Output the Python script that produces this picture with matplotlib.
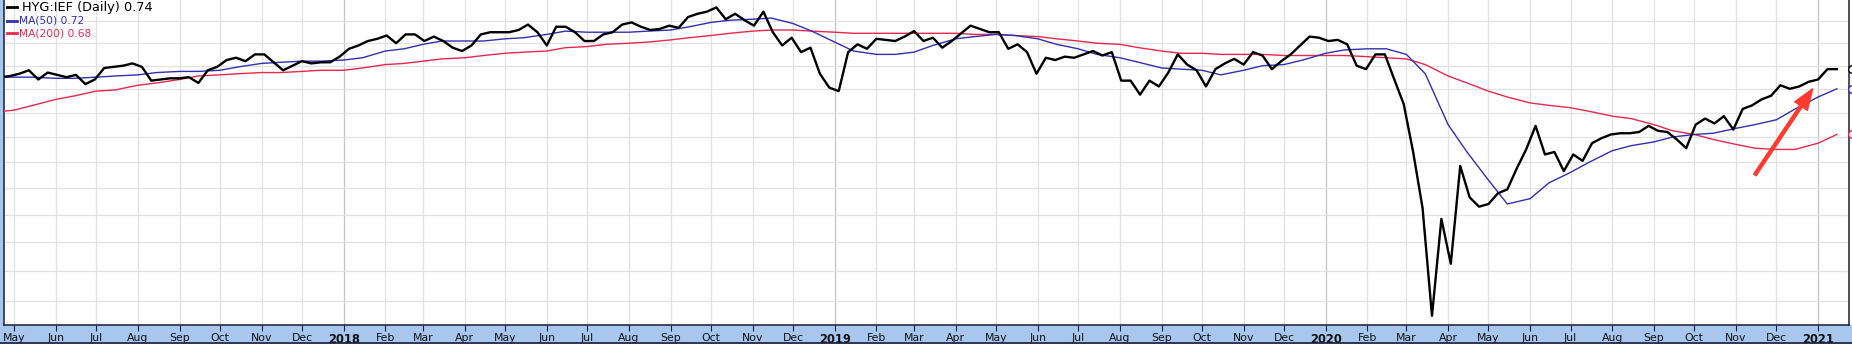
import numpy as np
import pandas as pd
import matplotlib
matplotlib.use('Agg')
import matplotlib.pyplot as plt
import matplotlib.transforms as mtransforms
from matplotlib.patches import Rectangle
from matplotlib.lines import Line2D
from matplotlib.ticker import FixedLocator, NullLocator, NullFormatter

W, H = 1852, 344

# ===== DATA =====
# HYG:IEF weekly closes (Fridays)
week_start = '2017-04-21'
ratio = [
    0.730, 0.731, 0.733, 0.736, 0.728, 0.734, 0.732, 0.730, 0.732, 0.724,
    0.728, 0.738, 0.739, 0.740, 0.742, 0.739, 0.727, 0.728, 0.729, 0.729,
    0.730, 0.725, 0.736, 0.739, 0.745, 0.747, 0.744, 0.750, 0.750, 0.743,
    0.736, 0.740, 0.744, 0.742, 0.743, 0.743, 0.748, 0.755, 0.758, 0.762,
    0.764, 0.767, 0.760, 0.768, 0.768, 0.762, 0.766, 0.762, 0.756, 0.753,
    0.758, 0.768, 0.770, 0.770, 0.770, 0.772, 0.777, 0.770, 0.758, 0.775,
    0.775, 0.770, 0.762, 0.762, 0.768, 0.770, 0.777, 0.779, 0.775, 0.772,
    0.773, 0.776, 0.774, 0.784, 0.787, 0.789, 0.793, 0.782, 0.787, 0.781,
    0.776, 0.789, 0.770, 0.758, 0.765, 0.752, 0.756, 0.733, 0.721, 0.718,
    0.752, 0.759, 0.755, 0.764, 0.763, 0.762, 0.766, 0.771, 0.762, 0.765,
    0.756, 0.762, 0.769, 0.776, 0.773, 0.770, 0.770, 0.755, 0.759, 0.752,
    0.733, 0.747, 0.745, 0.748, 0.747, 0.750, 0.753, 0.749, 0.752, 0.727,
    0.727, 0.715, 0.727, 0.722, 0.734, 0.750, 0.741, 0.736, 0.722, 0.737,
    0.742, 0.746, 0.741, 0.752, 0.749, 0.737, 0.744, 0.750, 0.758, 0.766,
    0.765, 0.762, 0.763, 0.759, 0.740, 0.737, 0.750, 0.750, 0.728, 0.707,
    0.668, 0.625, 0.550, 0.617, 0.585, 0.657, 0.633, 0.626, 0.628, 0.636,
    0.639, 0.655, 0.670, 0.689, 0.666, 0.668, 0.653, 0.666, 0.661, 0.675,
    0.679, 0.682, 0.683, 0.683, 0.684, 0.689, 0.685, 0.684, 0.678, 0.671,
    0.690, 0.695, 0.691, 0.697, 0.686, 0.703, 0.706, 0.711, 0.714, 0.723,
    0.720, 0.722, 0.726, 0.728, 0.737, 0.737,
]

# moving averages, read on the 1st and 15th of each month
ma_start = '2017-04-15'
ma50 = [
    0.730, 0.730, 0.730, 0.729, 0.729, 0.730, 0.731, 0.732, 0.734, 0.735,
    0.735, 0.736, 0.739, 0.742, 0.743, 0.744, 0.744,
    0.745, 0.747, 0.753, 0.755, 0.759, 0.762, 0.762, 0.762, 0.764, 0.765,
    0.768, 0.771, 0.770, 0.770, 0.770, 0.771, 0.772, 0.775, 0.779, 0.781,
    0.782, 0.783, 0.778, 0.771,
    0.761, 0.753, 0.750, 0.750, 0.752, 0.758, 0.764, 0.766, 0.768, 0.767,
    0.764, 0.759, 0.755, 0.750, 0.747, 0.743, 0.738, 0.737, 0.736, 0.732,
    0.736, 0.740, 0.741, 0.745,
    0.751, 0.754, 0.755, 0.755, 0.750, 0.733, 0.690, 0.668, 0.646, 0.628,
    0.632, 0.644, 0.652, 0.660, 0.669, 0.673, 0.676, 0.680, 0.682, 0.683,
    0.687, 0.690, 0.694, 0.703,
    0.713, 0.720,
]
ma200 = [
    0.700, 0.702, 0.706, 0.711, 0.714, 0.718, 0.719, 0.723, 0.725, 0.728,
    0.731, 0.732, 0.733, 0.734, 0.734, 0.735, 0.736,
    0.736, 0.738, 0.741, 0.742, 0.744, 0.746, 0.747, 0.749, 0.751, 0.752,
    0.753, 0.756, 0.757, 0.759, 0.760, 0.761, 0.763, 0.765, 0.767, 0.769,
    0.771, 0.772, 0.772, 0.771,
    0.770, 0.769, 0.769, 0.769, 0.769, 0.769, 0.769, 0.768, 0.768, 0.767,
    0.766, 0.764, 0.762, 0.760, 0.759, 0.756, 0.753, 0.751, 0.751, 0.750,
    0.750, 0.750, 0.749, 0.749,
    0.749, 0.749, 0.748, 0.747, 0.746, 0.741, 0.731, 0.725, 0.718, 0.713,
    0.708, 0.706, 0.704, 0.701, 0.697, 0.695, 0.690, 0.685, 0.682, 0.678,
    0.674, 0.671, 0.670, 0.670,
    0.675, 0.682,
]

dates = pd.date_range(week_start, periods=len(ratio), freq='W-FRI')
ma_dates = pd.date_range(ma_start, periods=len(ma50), freq='SMS')
months = pd.date_range('2017-05-01', '2021-01-01', freq='MS')
month_labels = [d.strftime('%Y') if d.month == 1 else d.strftime('%b') for d in months]
grid_levels = np.round(np.arange(0.56, 0.781, 0.02), 2)

# ===== COLOURS =====
BAND = '#a8c7ef'
EDGE = '#1c1c3c'
BLUE = '#3030b0'
RED = '#e8284e'

# ===== FIGURE =====
fig = plt.figure(figsize=(W / 100, H / 100), dpi=100)
fig.patch.set_facecolor('white')
fig.patches.append(Rectangle((0, 0), 1, 19 / H, transform=fig.transFigure,
                             color=BAND, zorder=-5))
fig.patches.append(Rectangle((0, 0), 4 / W, 1, transform=fig.transFigure,
                             color=BAND, zorder=-5))
fig.lines.append(Line2D([0, 1], [0.6 / H, 0.6 / H], transform=fig.transFigure,
                        color=EDGE, lw=1.2, zorder=5))

ax = fig.add_axes([4 / W, 19 / H, 1845 / W, 325 / H])
ax.set_yscale('log')
ax.set_ylim(0.544, 0.800)
ax.set_xlim(pd.Timestamp('2017-04-23 12:00'), pd.Timestamp('2021-01-24'))

# grid
ax.yaxis.set_major_locator(FixedLocator(grid_levels))
ax.yaxis.set_minor_locator(NullLocator())
ax.yaxis.set_major_formatter(NullFormatter())
ax.yaxis.set_minor_formatter(NullFormatter())
ax.tick_params(axis='y', length=0)
ax.grid(True, axis='y', color='#e2e2e2', lw=0.9)
for d in months:
    ax.axvline(d, color='#c4c4c4' if d.month == 1 else '#e2e2e2', lw=0.9, zorder=0)

# x axis
ax.set_xticks(months)
ax.set_xticklabels(month_labels)
for lab, d in zip(ax.get_xticklabels(), months):
    lab.set_fontsize(8.3 if d.month == 1 else 7.8)
    lab.set_fontweight('bold' if d.month == 1 else 'normal')
ax.tick_params(axis='x', direction='out', length=4, width=0.8, color=EDGE,
               pad=1.5, labelcolor='#111111')

for side in ['left', 'bottom', 'right']:
    ax.spines[side].set_color(EDGE)
    ax.spines[side].set_linewidth(1.1)
ax.spines['top'].set_visible(False)

# series
ax.plot(ma_dates, ma200, color=RED, lw=1.0, zorder=3)
ax.plot(ma_dates, ma50, color=BLUE, lw=1.0, zorder=3)
ax.plot(dates, ratio, color='black', lw=1.7, zorder=4)

# last-value markers on the right edge
edge = mtransforms.blended_transform_factory(ax.transAxes, ax.transData)
for val, col in [(ratio[-1], 'black'), (ma50[-1], BLUE), (ma200[-1], RED)]:
    ax.plot([1.0 + 3 / 1845], [val], 'o', ms=5.5, mfc='white', mec=col, mew=1.0,
            transform=edge, clip_on=False, zorder=5)

# red annotation arrow
ax.annotate('', xy=(pd.Timestamp('2020-12-28'), 0.720),
            xytext=(pd.Timestamp('2020-11-15'), 0.650),
            arrowprops=dict(arrowstyle='simple,head_length=1.5,head_width=1.1,tail_width=0.22',
                            color='#ff3b30', shrinkA=0, shrinkB=0, mutation_scale=10),
            zorder=6)

# legend (top-left)
legend = [(f'HYG:IEF (Daily) {ratio[-1]:.2f}', 'black', 9.3, 7, 22),
          (f'MA(50) {ma50[-1]:.2f}', BLUE, 7.7, 20.5, 19),
          (f'MA(200) {ma200[-1]:.2f}', RED, 7.7, 33, 19)]
for text, col, size, py, px in legend:
    fig.lines.append(Line2D([7 / W, 17 / W], [1 - py / H, 1 - py / H],
                            transform=fig.transFigure, color=col, lw=2))
    fig.text(px / W, 1 - py / H, text, color=col, fontsize=size,
             ha='left', va='center')

fig.savefig('out.png', dpi=100)
